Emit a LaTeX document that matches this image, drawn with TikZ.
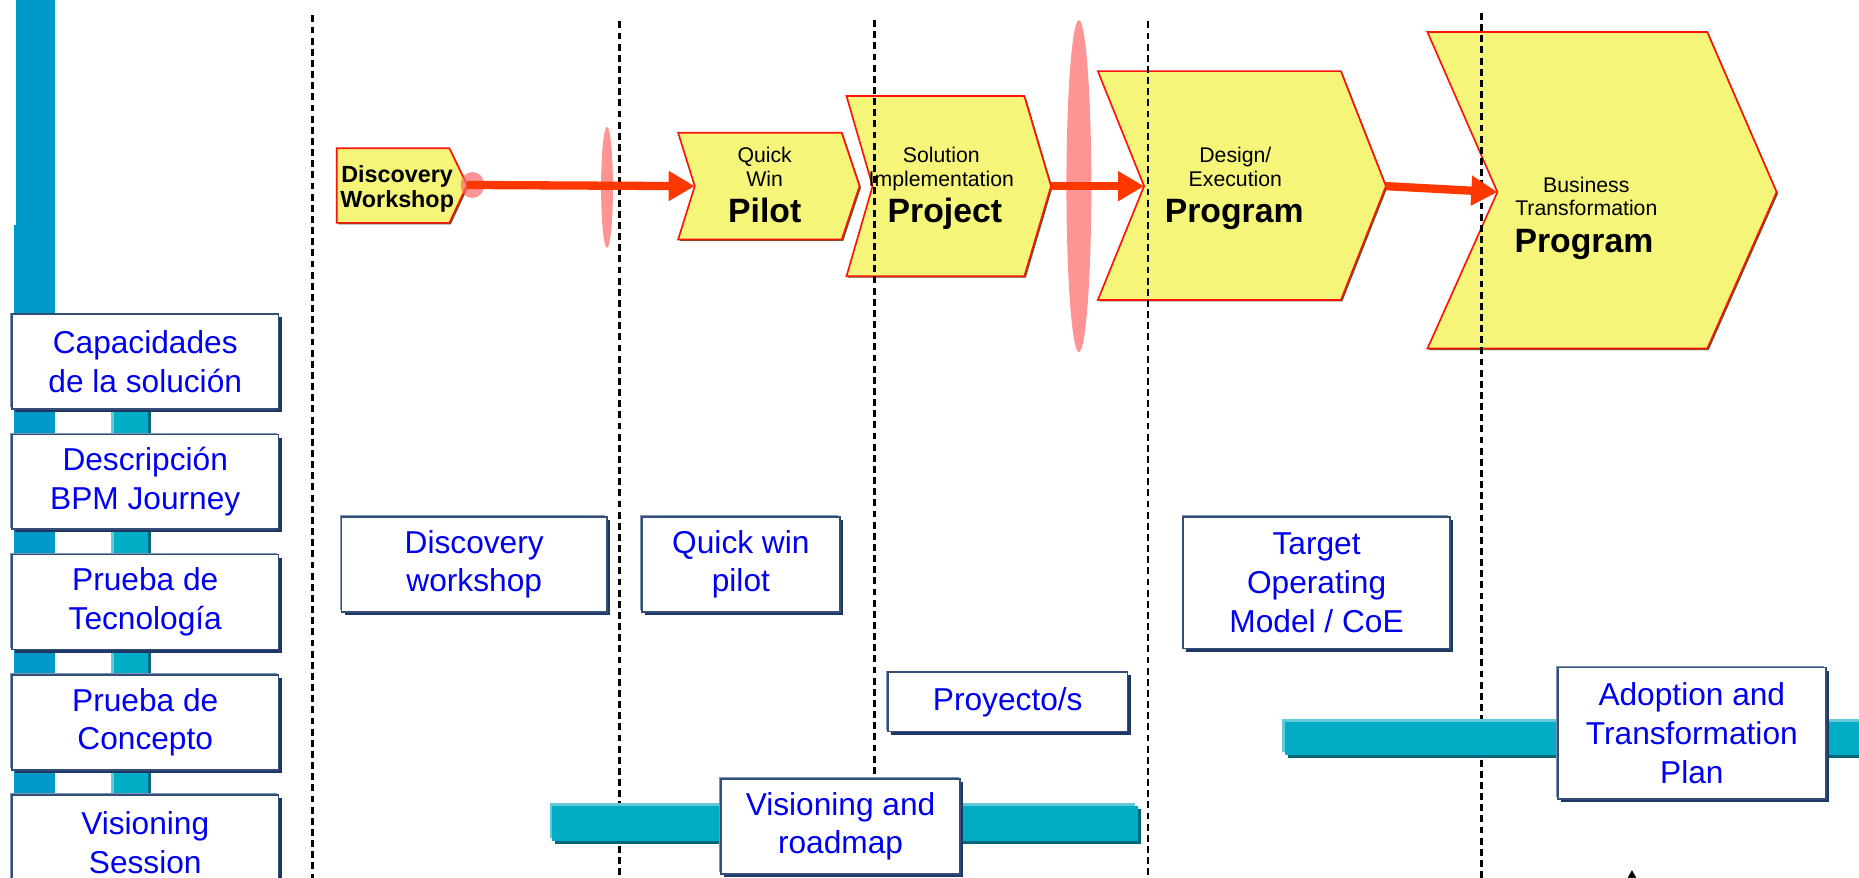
\documentclass[tikz,border=0pt]{standalone}
\usepackage{fontspec}
\setmainfont{Liberation Sans}
\usetikzlibrary{arrows.meta,positioning,shadows}

\definecolor{chevfill}{RGB}{245,245,122}
\definecolor{chevline}{RGB}{250,20,10}
\definecolor{flow}{RGB}{255,56,0}
\definecolor{railblue}{RGB}{0,153,200}
\definecolor{barteal}{RGB}{2,172,196}
\definecolor{barlight}{RGB}{100,200,216}
\definecolor{bardark}{RGB}{0,104,120}
\definecolor{boxline}{RGB}{52,78,120}
\definecolor{boxdark}{RGB}{30,56,100}
\definecolor{boxlight}{RGB}{128,148,182}
\definecolor{boxtext}{RGB}{0,0,240}

\begin{document}
\begin{tikzpicture}[
  x=0.1mm, y=-0.1mm,
  chev/.style={draw=chevline, fill=chevfill, line width=0.4pt,
    drop shadow={shadow xshift=0.35pt, shadow yshift=-0.35pt, opacity=1,
      fill=black!45!olive}},
  small/.style={font=\fontsize{5.1}{5.7}\selectfont, align=center,
    inner sep=0pt, anchor=base},
  big/.style={font=\fontsize{8.1}{9}\selectfont\bfseries, inner sep=0pt,
    anchor=base},
  lanebox/.style={draw=boxline, fill=white, line width=0.4pt, text=boxtext,
    align=center, font=\fontsize{7.6}{9.3}\selectfont, inner sep=0pt,
    minimum height=8mm,
    general shadow={shadow xshift=-0.4pt, shadow yshift=0.4pt, opacity=1,
      fill=boxlight},
    drop shadow={shadow xshift=0.75pt, shadow yshift=-0.75pt, opacity=1,
      fill=boxdark}},
  bar/.style={fill=barteal,
    general shadow={shadow xshift=-0.7pt, shadow yshift=0.7pt, opacity=1,
      fill=barlight},
    drop shadow={shadow xshift=0.7pt, shadow yshift=-0.7pt, opacity=1,
      fill=bardark}},
  divider/.style={draw=black, line width=0.6pt,
    dash pattern=on 0.58mm off 0.36mm},
  halo/.style={fill=red!60, fill opacity=0.7, draw=none},
  flowarrow/.style={draw=flow, line width=0.7mm,
    -{Triangle[length=2.2mm, width=2.4mm]}},
]
\useasboundingbox (0,0) rectangle (1568,740);

% chevrons along the journey
\draw[chev] (284,125) -- (379,125) -- (394,156) coordinate (dw-tip)
  -- (379,188) -- (284,188) -- cycle;
\draw[chev] (572,112) -- (710,112) -- (725,157) -- (710,202) -- (572,202)
  -- (586,157) coordinate (pl-in) -- cycle;
\draw[chev] (714,81) -- (864,81) -- (886.5,157) coordinate (pj-tip)
  -- (864,233) -- (714,233) -- (736,157) -- cycle;
\draw[chev] (926,60) -- (1131,60) -- (1169,157) coordinate (dp-tip)
  -- (1131,253) -- (926,253) -- (965,157) coordinate (dp-in) -- cycle;
\draw[chev] (1204,27) -- (1440,27) -- (1498.5,162) -- (1440,294)
  -- (1204,294) -- (1263,162) coordinate (bt-in) -- cycle;

% chevron labels (base = last line)
\node[small, font=\fontsize{5.6}{6.1}\selectfont\bfseries] (dw-t) at (335,175)
  {Discovery\\Workshop};
\node[small] (pl-t) at (645,157) {Quick\\Win};
\node[big] (pl-b) at (645,188) {Pilot};
\node[small] (pj-t) at (794,157) {Solution\\Implementation};
\node[big] (pj-b) at (797,188) {Project};
\node[small] (dp-t) at (1042,157) {Design/\\Execution};
\node[big] (dp-b) at (1041,188) {Program};
\node[small] (bt-t) at (1338,182) {Business\\Transformation};
\node[big] (bt-b) at (1336,213) {Program};

% phase dividers
\draw[divider] (263.5,13) -- (263.5,745);
\draw[divider] (522.5,18) -- (522.5,745);
\draw[divider] (737.5,17) -- (737.5,745);
\draw[divider] (968.5,18) -- (968.5,745);
\draw[divider] (1249.5,11) -- (1249.5,745);

% left rails
\fill[railblue] (13.5,0) rectangle (46.5,190);
\fill[railblue] (12,190) rectangle (46.5,745);
\path[bar] (96,330) rectangle (125,745);

% timeline bars
\path[bar] (466,680) rectangle (960,709);
\path[bar] (1084,609) rectangle (1580,637);

% row headers
\node[lanebox, minimum width=22.5mm] (cap) at (122.5,305)
  {Capacidades\\de la solución};
\node[lanebox, minimum width=22.5mm, below=2mm of cap] (bpm)
  {Descripción\\BPM Journey};
\node[lanebox, minimum width=22.5mm, below=2mm of bpm] (tec)
  {Prueba de\\Tecnología};
\node[lanebox, minimum width=22.5mm, below=2mm of tec] (poc)
  {Prueba de\\Concepto};
\node[lanebox, minimum width=22.5mm, below=2mm of poc] (vis)
  {Visioning\\Session};

% deliverables
\node[lanebox, minimum width=22.4mm] (dw) at (400,476) {Discovery\\workshop};
\node[lanebox, minimum width=16.7mm, right=2.8mm of dw] (qw)
  {Quick win\\pilot};
\node[lanebox, minimum width=20.2mm, minimum height=5mm] (proy) at (850,592)
  {Proyecto/s};
\node[lanebox, minimum width=20.2mm] (vr) at (709,697)
  {Visioning and\\roadmap};
\node[lanebox, minimum width=22.5mm, minimum height=11.1mm] (tom)
  at (1110.5,491.5) {Target\\Operating\\Model / CoE};
\node[lanebox, minimum width=22.6mm, minimum height=11.1mm] (atp)
  at (1427,618.5) {Adoption and\\Transformation\\Plan};

% gates
\path[halo] (398.5,156) ellipse [x radius=10, y radius=11];
\path[halo] (512,158) ellipse [x radius=5, y radius=51];
\path[halo] (910,157) ellipse [x radius=10.5, y radius=140];

% flow
\draw[flowarrow] (dw-tip) -- (pl-in);
\draw[flowarrow] (pj-tip) -- (dp-in);
\draw[flowarrow] (dp-tip) -- (bt-in);

\coordinate (tick-a) at (1376.5,750);
\coordinate (tick-b) at (1376.5,734);
\draw[line width=0.3pt, -{Stealth[length=0.8mm, width=0.9mm]}] (tick-a) -- (tick-b);
\end{tikzpicture}
\end{document}
